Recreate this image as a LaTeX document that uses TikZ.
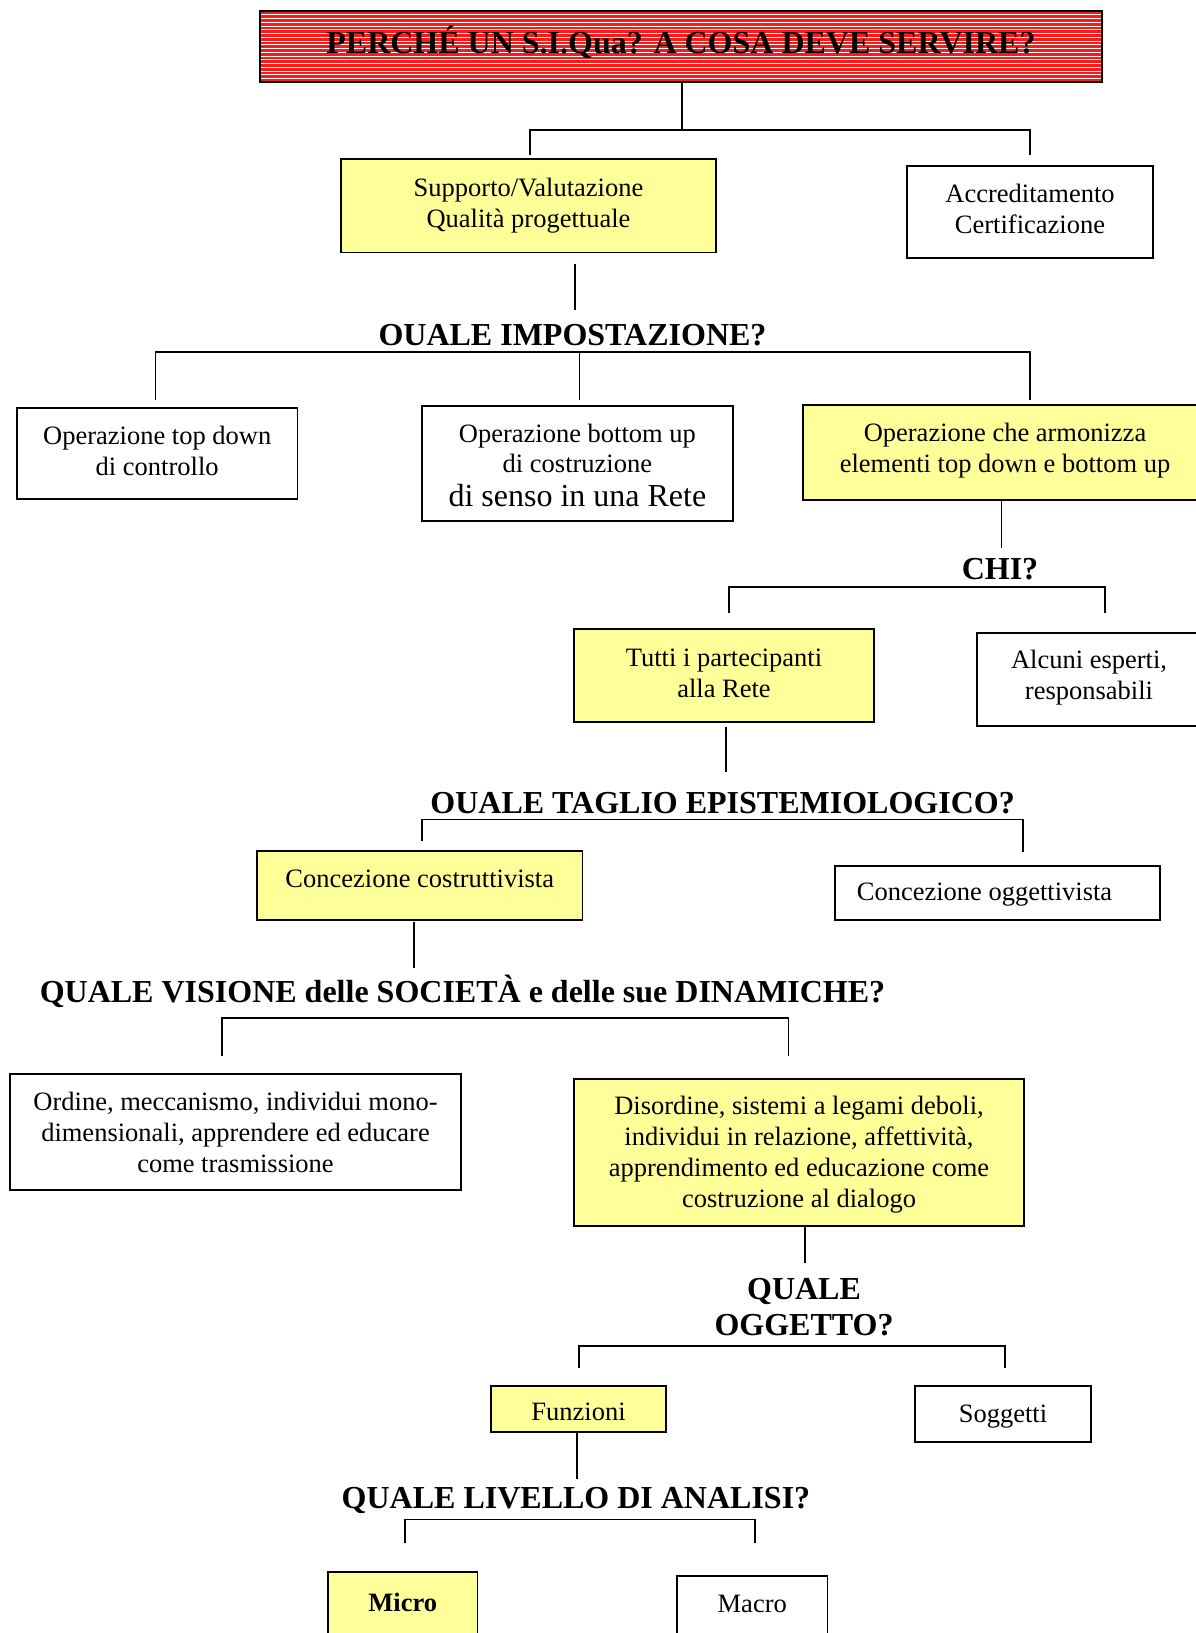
\documentclass[tikz,border=0pt]{standalone}
\usepackage{fontspec}
\setmainfont{Liberation Serif}
\usetikzlibrary{calc}
\definecolor{boxyellow}{RGB}{255,255,153}
\definecolor{titlered}{RGB}{255,24,24}
\newcommand{\bodyfont}{\fontsize{26.5}{31}\selectfont}
\newcommand{\headfont}{\fontsize{32}{36}\selectfont\bfseries}
\newcommand{\dstrut}[1]{\rule[-#1]{0pt}{#1}}
\begin{document}
\begin{tikzpicture}[x=1pt,y=-1pt,
  box/.style={draw=black, line width=1.8pt, fill=white, align=center, font=\bodyfont, inner sep=0pt},
  ybox/.style={box, fill=boxyellow},
  head/.style={font=\headfont, inner sep=0pt, anchor=base},
  conn/.style={line width=1.6pt},
  stripes/.style={path picture={
    \foreach \k in {1,...,18}{
      \draw[white, line width=0.9pt]
        ([yshift=-\k*3.75pt]path picture bounding box.north west) --
        ([yshift=-\k*3.75pt]path picture bounding box.north east);}}}]
\useasboundingbox (0,0) rectangle (1196,1633);
\clip (0,0) rectangle (1196,1633);

% title
\node[box, fill=titlered, stripes, minimum width=842pt, minimum height=71pt, font=\headfont]
  (title) at (681,46.5) {\raisebox{4pt}[\height][\depth]{PERCHÉ UN S.I.Qua? A COSA DEVE SERVIRE?}};

% level 1
\node[ybox, minimum width=375pt, minimum height=93.5pt] (sup) at (528.5,205.75) {Supporto/Valutazione\\Qualità progettuale};
\node[box, minimum width=246pt, minimum height=92pt] (acc) at (1030,212) {Accreditamento\\Certificazione\dstrut{6.2pt}};

% headings
\node[head] (q1) at (572.5,345.5) {OUALE IMPOSTAZIONE?};
\node[head] (chi) at (1000,579) {CHI?};
\node[head] (q2) at (722.6,813) {OUALE TAGLIO EPISTEMIOLOGICO?};
\node[head] (q3) at (462.5,1002.5) {QUALE VISIONE delle SOCIETÀ e delle sue DINAMICHE?};
\node[head, align=center, anchor=north] (q4) at (804,1278.5) {QUALE\\OGGETTO?};
\node[head] (q5) at (576,1508) {QUALE LIVELLO DI ANALISI?};

% level 2
\node[box, minimum width=280.7pt, minimum height=91.6pt] (td) at (157.2,453.5) {Operazione top down\\di controllo\dstrut{6.2pt}};
\node[box, minimum width=311pt, minimum height=115.5pt] (bu) at (577.4,463.4) {\rule{0pt}{23pt}Operazione bottom up\\[-1pt]di costruzione\\[3pt]{\fontsize{32}{33}\selectfont di senso in una Rete}};
\node[ybox, minimum width=404pt, minimum height=95pt] (arm) at (1005,452.5) {Operazione che armonizza\\elementi top down e bottom up\dstrut{10pt}};

% level 3
\node[ybox, minimum width=300pt, minimum height=93pt] (tut) at (724,675.5) {Tutti i partecipanti\\alla Rete\dstrut{4.2pt}};
\node[box, minimum width=224pt, minimum height=93pt] (alc) at (1089,679.5) {Alcuni esperti,\\responsabili\dstrut{10pt}};

% level 4
\node[ybox, minimum width=325.5pt, minimum height=69.3pt] (cos) at (419.75,885.35) {\raisebox{6.5pt}[\height][\depth]{Concezione costruttivista}};
\node[box, minimum width=325pt, minimum height=54.3pt] (ogg) at (997.5,892.85) {\raisebox{-2pt}[\height][\depth]{\hbox{Concezione oggettivista\kern26pt}}};

% level 5
\node[box, minimum width=451pt, minimum height=116pt] (ord) at (235.5,1132) {Ordine, meccanismo, individui mono-\\dimensionali, apprendere ed educare\\come trasmissione};
\node[ybox, minimum width=450pt, minimum height=147pt] (dis) at (799,1152.5) {\rule{0pt}{22pt}Disordine, sistemi a legami deboli,\\individui in relazione, affettività,\\apprendimento ed educazione come\\costruzione al dialogo};

% level 6
\node[ybox, minimum width=175pt, minimum height=46pt] (fun) at (578.5,1409) {\raisebox{-3pt}[\height][\depth]{Funzioni}};
\node[box, minimum width=176pt, minimum height=56pt] (sog) at (1003,1414) {\raisebox{-3pt}[\height][\depth]{Soggetti}};

% level 7
\node[ybox, minimum width=149.5pt, minimum height=73pt, font=\bodyfont\bfseries] (mic) at (402.75,1608.5) {\raisebox{6.5pt}[\height][\depth]{Micro}};
\node[box, minimum width=150.5pt, minimum height=73pt] (mac) at (752.25,1612.5) {\raisebox{8.5pt}[\height][\depth]{Macro}};

% connectors
\coordinate (b1) at (682,130);
\draw[conn] (title.south -| b1) -- (b1);
\draw[conn] ($(sup.north)+(1.5,-3)$) |- (b1) -| ($(acc.north)+(0,-10)$);

\draw[conn] ($(sup.south)+(46.5,10.2)$) -- ($(q1.north)+(2.5,-14.5)$);
\coordinate (b2) at (579.5,352);
\draw[conn] ($(td.north)+(-1.7,-7.2)$) |- (b2) -| ($(arm.north)+(25,-4.5)$);
\draw[conn] (b2) -- ($(bu.north)+(2.1,-5.2)$);

\draw[conn] ($(arm.south)+(-3.5,0)$) -- ($(arm.south)+(-3.5,47)$);
\coordinate (b3) at (900,587);
\draw[conn] ($(tut.north)+(5,-15)$) |- (b3) -| ($(alc.north)+(16,-19)$);

\draw[conn] ($(tut.south)+(2,4)$) -- ($(tut.south)+(2,49)$);
\coordinate (b4) at (700,819.3);
\draw[conn] ($(cos.north)+(2.25,-9)$) |- (b4) -| ($(ogg.north)+(25.5,-12.7)$);

\draw[conn] ($(cos.south)+(-5.75,1)$) -- ($(cos.south)+(-5.75,47)$);
\coordinate (b5) at (500,1018);
\draw[conn] ($(ord.north)+(-13.5,-17.3)$) |- (b5) -| ($(dis.north)+(-10.5,-22.3)$);

\draw[conn] ($(dis.south)+(6,0)$) -- ($(dis.south)+(6,36)$);
\coordinate (b6) at (800,1346);
\draw[conn] ($(fun.north)+(0.5,-17)$) |- (b6) -| ($(sog.north)+(2,-17)$);

\draw[conn] ($(fun.south)+(-1.5,0)$) -- ($(fun.south)+(-1.5,46)$);
\coordinate (b7) at (600,1519.3);
\draw[conn] ($(mic.north)+(2.25,-28)$) |- (b7) -| ($(mac.north)+(2.75,-32)$);
\end{tikzpicture}
\end{document}
